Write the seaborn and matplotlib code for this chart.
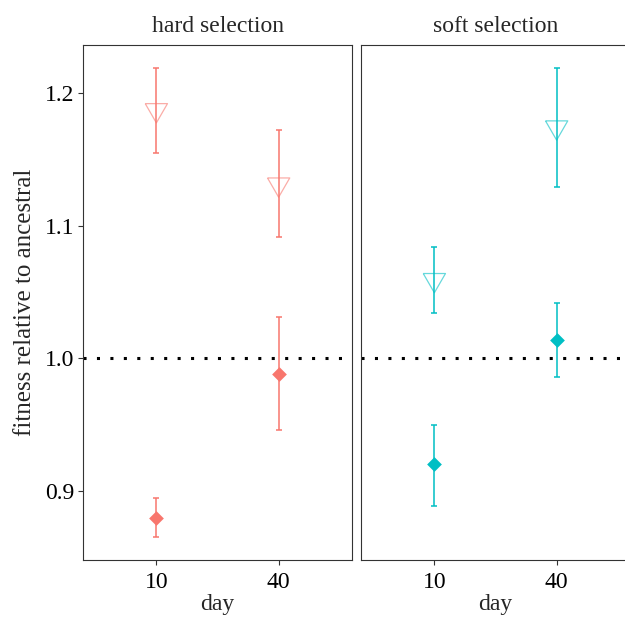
import matplotlib
import numpy as np
import pandas as pd
import seaborn as sns

matplotlib.use("Agg")
import matplotlib.pyplot as plt

# values
panels = ["hard selection", "soft selection"]
panel_colors = ["#F8766D", "#00BFC4"]
days = ["10", "40"]

# filled diamonds
filled_mean = {"hard selection": [0.880, 0.988], "soft selection": [0.920, 1.014]}
filled_low = {"hard selection": [0.865, 0.946], "soft selection": [0.889, 0.986]}
filled_high = {"hard selection": [0.895, 1.031], "soft selection": [0.950, 1.042]}

# open triangles
open_mean = {"hard selection": [1.187, 1.131], "soft selection": [1.059, 1.174]}
open_low = {"hard selection": [1.155, 1.091], "soft selection": [1.034, 1.129]}
open_high = {"hard selection": [1.219, 1.172], "soft selection": [1.084, 1.219]}

y_ticks = [0.9, 1.0, 1.1, 1.2]


def build_frame() -> pd.DataFrame:
    rows = []
    for panel in panels:
        for kind, mean, low, high in [
            ("filled", filled_mean, filled_low, filled_high),
            ("open", open_mean, open_low, open_high),
        ]:
            for i, day in enumerate(days):
                rows.append(
                    {
                        "panel": panel,
                        "kind": kind,
                        "day": day,
                        "pos": i,
                        "mean": mean[panel][i],
                        "low": low[panel][i],
                        "high": high[panel][i],
                    }
                )
    return pd.DataFrame(rows)


def main() -> None:
    sns.set_theme(style="ticks")
    plt.rcParams["font.family"] = ["Liberation Serif", "DejaVu Serif"]
    plt.rcParams["axes.edgecolor"] = "#333333"
    plt.rcParams["axes.linewidth"] = 0.8

    df = build_frame()
    tri = [(-1.0, 0.577), (1.0, 0.577), (0.0, -1.155), (-1.0, 0.577)]

    fig = plt.figure(figsize=(6.25, 6.19), dpi=100)
    ax_w = 269 / 625
    ax_b = 1 - 560 / 619
    ax_h = 515 / 619
    lefts = [83 / 625, 361 / 625]

    for k, (panel, color) in enumerate(zip(panels, panel_colors)):
        ax = fig.add_axes([lefts[k], ax_b, ax_w, ax_h])
        sub = df[df["panel"] == panel]

        ax.axhline(1.0, color="black", lw=2.2, linestyle=(0, (1, 3.4)), zorder=1)

        for _, r in sub.iterrows():
            ax.errorbar(
                r["pos"], r["mean"],
                yerr=[[r["mean"] - r["low"]], [r["high"] - r["mean"]]],
                fmt="none", ecolor=color, elinewidth=1.1, capsize=2.0, capthick=1.1, zorder=3,
            )

        op = sub[sub["kind"] == "open"]
        ax.scatter(
            op["pos"], op["mean"], marker=tri, s=18.5 ** 2, facecolors="none",
            edgecolors=color, linewidths=0.9, alpha=0.6, zorder=2,
        )
        fl = sub[sub["kind"] == "filled"]
        sns.scatterplot(
            data=fl, x="pos", y="mean", marker="D", s=7.5 ** 2, color=color,
            edgecolor=color, linewidth=0, ax=ax, zorder=4, legend=False,
        )

        ax.set_xlim(-0.6, 1.6)
        ax.set_ylim(0.848, 1.236)
        ax.set_xticks([0, 1])
        ax.set_xticklabels(days)
        ax.set_yticks(y_ticks)
        ax.set_yticklabels([f"{v:.1f}" for v in y_ticks])
        ax.tick_params(labelsize=17, length=3.5, width=0.8, color="#333333", pad=3, labelcolor="black")
        ax.tick_params(axis="x", pad=5)
        ax.set_xlabel("day", fontsize=17, labelpad=1)
        ax.set_title(panel, fontsize=17, pad=9)
        for side in ["top", "right", "left", "bottom"]:
            ax.spines[side].set_visible(True)
        if k == 0:
            ax.set_ylabel("fitness relative to ancestral", fontsize=18, labelpad=6)
        else:
            ax.set_ylabel("")
            ax.tick_params(axis="y", left=False, labelleft=False)

    fig.savefig("out.png", dpi=100)
    plt.close(fig)


if __name__ == "__main__":
    main()
